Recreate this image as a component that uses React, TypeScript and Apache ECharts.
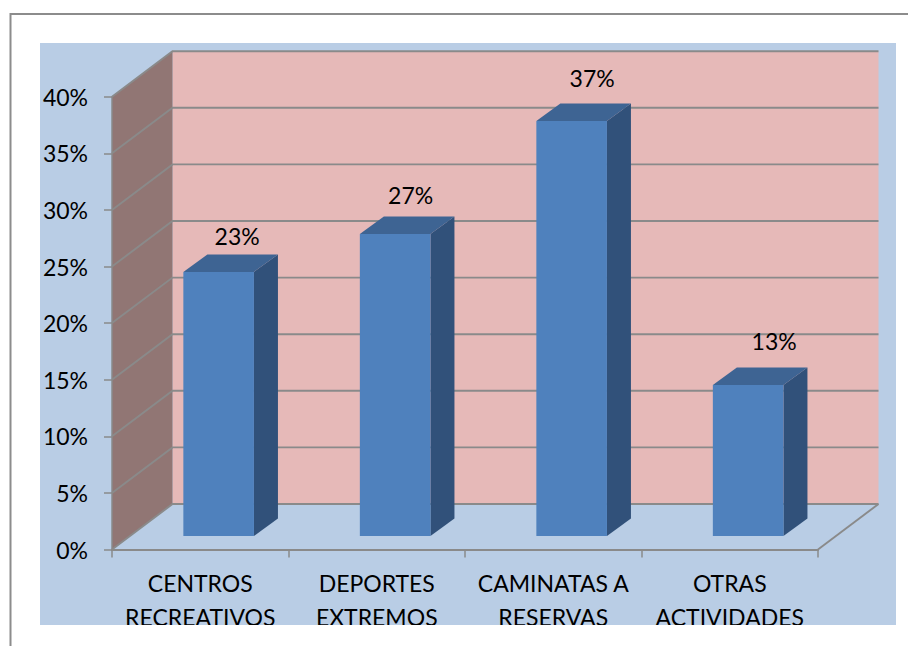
import React, { useEffect, useRef } from "react";
import * as echarts from "echarts";

const categories = ["CENTROS\nRECREATIVOS", "DEPORTES\nEXTREMOS", "CAMINATAS A\nRESERVAS", "OTRAS\nACTIVIDADES"];
const shares = [23.33, 26.67, 36.67, 13.33];
const valueLabels = ["23%", "27%", "37%", "13%"];
const yTicks = [0, 5, 10, 15, 20, 25, 30, 35, 40];

const labelNudgeX = [18.5, 15.5, 20.5, 26];
const labelNudgeY = [-36, -39, -42.5, -44];

const FONT = "Lato, Carlito, Calibri, sans-serif";
const FONT_SIZE = 23;
const DEPTH_X = 60.5;
const DEPTH_Y = -45.5;
const BAR_SHIFT_X = 18.4;
const BAR_SHIFT_Y = -13.5;
const BAR_DEPTH_X = 24;
const BAR_DEPTH_Y = -17.5;
const GRID = "#8a8a8a";

export default function App() {
  const ref = useRef<HTMLDivElement>(null);
  useEffect(() => {
    const chart = echarts.init(ref.current!, null, { renderer: "svg" });
    chart.setOption({
      animation: false,
      backgroundColor: "#ffffff",
      grid: { left: 112, top: 96.7, width: 706, height: 452.8, containLabel: false },
      graphic: [
        { type: "rect", z: -10, shape: { x: 40, y: 43, width: 856, height: 582 }, style: { fill: "#B9CDE5" } },
        { type: "polyline", z: 100, shape: { points: [[10.5, 646], [10.5, 14], [908, 14]] }, style: { fill: "none", stroke: "#8c8c8c", lineWidth: 2 } },
        { type: "rect", z: 100, shape: { x: 40, y: 625, width: 856, height: 21 }, style: { fill: "#ffffff" } },
      ],
      xAxis: {
        type: "category",
        data: categories,
        z: 5,
        axisLine: { lineStyle: { color: GRID, width: 2 } },
        axisTick: { show: true, alignWithLabel: false, length: 8, lineStyle: { color: GRID, width: 1.5 } },
        axisLabel: { color: "#000", fontFamily: FONT, fontSize: FONT_SIZE, lineHeight: 34, margin: 16, interval: 0 },
      },
      yAxis: {
        type: "value",
        min: 0,
        max: 40,
        interval: 5,
        z: 5,
        splitLine: { show: false },
        axisLine: { show: true, lineStyle: { color: GRID, width: 1.5 } },
        axisTick: { show: true, length: 8, lineStyle: { color: GRID, width: 1.5 } },
        axisLabel: { color: "#000", fontFamily: FONT, fontSize: FONT_SIZE, margin: 24, formatter: (v: number) => `${v}%` },
      },
      series: [
        {
          type: "custom",
          coordinateSystem: "cartesian2d",
          z: 1,
          silent: true,
          data: [[0, 0]],
          renderItem: (params: any, api: any) => {
            const cs = params.coordSys;
            const x0 = cs.x;
            const x1 = cs.x + cs.width;
            const yb = api.coord([0, 0])[1];
            const yt = api.coord([0, 40])[1];
            const lineStyle = { stroke: GRID, lineWidth: 1.9, fill: "none" };
            const children: any[] = [
              { type: "polygon", shape: { points: [[x0 + DEPTH_X, yt + DEPTH_Y], [x1 + DEPTH_X, yt + DEPTH_Y], [x1 + DEPTH_X, yb + DEPTH_Y], [x0 + DEPTH_X, yb + DEPTH_Y]] }, style: { fill: "#E6B9B8" } },
              { type: "polygon", shape: { points: [[x0, yb], [x0 + DEPTH_X, yb + DEPTH_Y], [x0 + DEPTH_X, yt + DEPTH_Y], [x0, yt]] }, style: { fill: "#917674" } },
              { type: "line", shape: { x1, y1: yb, x2: x1 + DEPTH_X, y2: yb + DEPTH_Y }, style: lineStyle },
            ];
            yTicks.forEach((t) => {
              const y = api.coord([0, t])[1];
              children.push({ type: "polyline", shape: { points: [[x0, y], [x0 + DEPTH_X, y + DEPTH_Y], [x1 + DEPTH_X, y + DEPTH_Y]] }, style: lineStyle });
            });
            return { type: "group", children };
          },
        },
        {
          type: "custom",
          coordinateSystem: "cartesian2d",
          z: 2,
          silent: true,
          data: shares.map((v, i) => [i, v]),
          renderItem: (params: any, api: any) => {
            const i = api.value(0);
            const top = api.coord([i, api.value(1)]);
            const base = api.coord([i, 0]);
            const w = api.size([1, 0])[0] * 0.4;
            const l = top[0] + BAR_SHIFT_X - w / 2;
            const r = l + w;
            const t = top[1] + BAR_SHIFT_Y;
            const b = base[1] + BAR_SHIFT_Y;
            const dx = BAR_DEPTH_X;
            const dy = BAR_DEPTH_Y;
            return {
              type: "group",
              children: [
                { type: "polygon", shape: { points: [[r, t], [r + dx, t + dy], [r + dx, b + dy], [r, b]] }, style: { fill: "#31517A" } },
                { type: "polygon", shape: { points: [[l, t], [l + dx, t + dy], [r + dx, t + dy], [r, t]] }, style: { fill: "#3E6493" } },
                { type: "rect", shape: { x: l, y: t, width: w, height: b - t }, style: { fill: "#4F81BD" } },
                {
                  type: "text",
                  style: {
                    text: valueLabels[i],
                    x: top[0] + BAR_SHIFT_X + labelNudgeX[i],
                    y: t + labelNudgeY[i],
                    align: "center",
                    verticalAlign: "middle",
                    fontFamily: FONT,
                    fontSize: FONT_SIZE,
                    fill: "#000",
                  },
                },
              ],
            };
          },
        },
      ],
    });
    return () => chart.dispose();
  }, []);
  return <div ref={ref} style={{ position: "fixed", left: 0, top: 0, width: 908, height: 646 }} />;
}
